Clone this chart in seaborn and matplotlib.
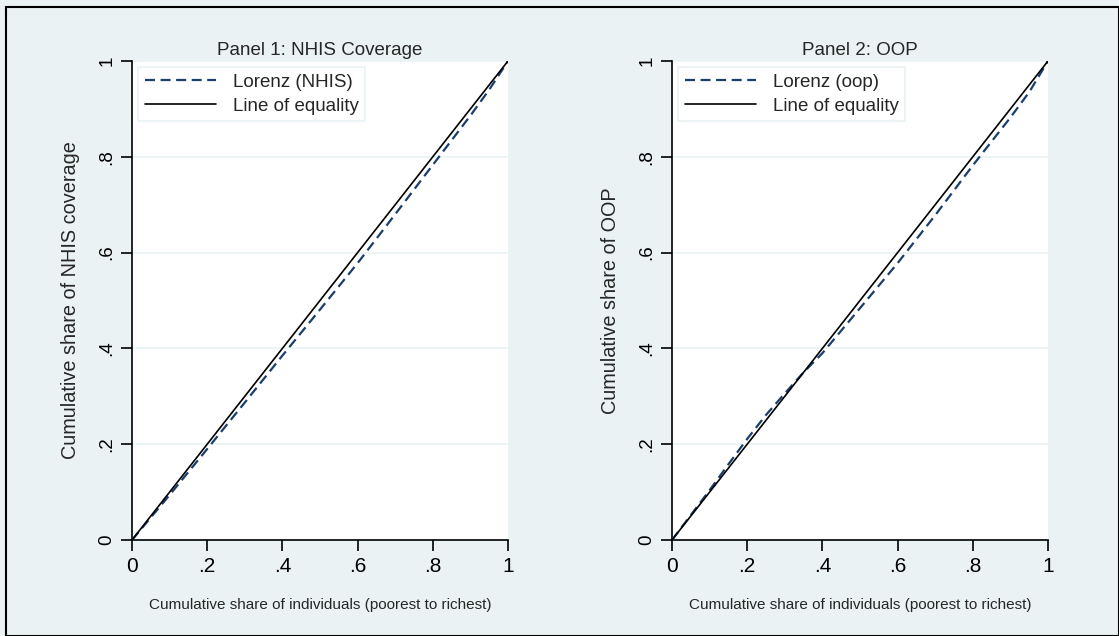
import matplotlib
matplotlib.use("Agg")
import matplotlib.pyplot as plt
import seaborn as sns
import pandas as pd
from matplotlib.patches import Rectangle

# Panel 1: NHIS coverage Lorenz curve
nhis_x = [0, 0.1, 0.2, 0.3, 0.4, 0.5, 0.6, 0.7, 0.8, 0.9, 0.95, 1.0]
nhis_y = [0, 0.094, 0.19, 0.287, 0.385, 0.481, 0.578, 0.680, 0.783, 0.886, 0.94, 1.0]

# Panel 2: OOP Lorenz curve
oop_x = [0, 0.1, 0.15, 0.2, 0.25, 0.3, 0.35, 0.4, 0.5, 0.6, 0.7, 0.8, 0.9, 0.95, 1.0]
oop_y = [0, 0.104, 0.158, 0.211, 0.261, 0.306, 0.35, 0.39, 0.484, 0.578, 0.678, 0.782, 0.882, 0.935, 1.0]

equality = [0, 1]
ticks = [0, 0.2, 0.4, 0.6, 0.8, 1.0]
tick_labels = ["0", ".2", ".4", ".6", ".8", "1"]

panels = [
    ("Panel 1: NHIS Coverage", "Lorenz (NHIS)", "Cumulative share of NHIS coverage", nhis_x, nhis_y),
    ("Panel 2: OOP", "Lorenz (oop)", "Cumulative share of OOP", oop_x, oop_y),
]

sns.set_style("white")
plt.rcParams['font.family'] = ['Liberation Sans', 'DejaVu Sans']

bg = "#EAF2F3"
navy = "#1A3F6F"

fig = plt.figure(figsize=(11.19, 6.36), dpi=100)
fig.patch.set_facecolor(bg)
fig.patches.append(Rectangle((6 / 1119, 0), 1 - 6 / 1119, 1 - 7 / 636, transform=fig.transFigure,
                             fill=False, edgecolor="black", linewidth=1.5))

lefts = [132 / 1119, 672 / 1119]
for left, (title, lab, ylab, xs, ys) in zip(lefts, panels):
    ax = fig.add_axes([left, 1 - 540 / 636, 376 / 1119, 479 / 636])
    ax.set_facecolor("white")
    df = pd.DataFrame({"x": xs, "y": ys})
    eq = pd.DataFrame({"x": equality, "y": equality})
    sns.lineplot(data=df, x="x", y="y", ax=ax, color=navy, linewidth=1.6,
                 label=lab, zorder=3).lines[-1].set_dashes((4.5, 2.5))
    sns.lineplot(data=eq, x="x", y="y", ax=ax, color="black", linewidth=1.2,
                 label="Line of equality", zorder=4)
    ax.set_xlim(0, 1)
    ax.set_ylim(0, 1)
    ax.set_xticks(ticks)
    ax.set_xticklabels(tick_labels, fontsize=15)
    ax.set_yticks(ticks)
    ax.set_yticklabels(tick_labels, rotation=90, va="center", fontsize=13.5)
    ax.tick_params(axis="both", direction="out", length=8, width=1.2,
                   colors="black", pad=4, left=True, bottom=True)
    ax.yaxis.grid(True, color=bg, linewidth=1.2)
    ax.xaxis.grid(False)
    sns.despine(ax=ax)
    for side in ["left", "bottom"]:
        ax.spines[side].set_color("black")
        ax.spines[side].set_linewidth(1.2)
    ax.set_title(title, fontsize=13.5, pad=4)
    ax.set_xlabel("Cumulative share of individuals (poorest to richest)", fontsize=11, labelpad=16)
    ax.set_ylabel(ylab, fontsize=14.3, labelpad=13)
    leg = ax.legend(loc="upper left", bbox_to_anchor=(0.016, 0.987), borderaxespad=0,
                    fontsize=13.5, frameon=True, fancybox=False, edgecolor=bg, framealpha=1,
                    handlelength=3.8, handletextpad=0.9, borderpad=0.35, labelspacing=0.35)
    leg.get_frame().set_linewidth(1.2)

fig.savefig("out.png", dpi=100, facecolor=fig.get_facecolor())
